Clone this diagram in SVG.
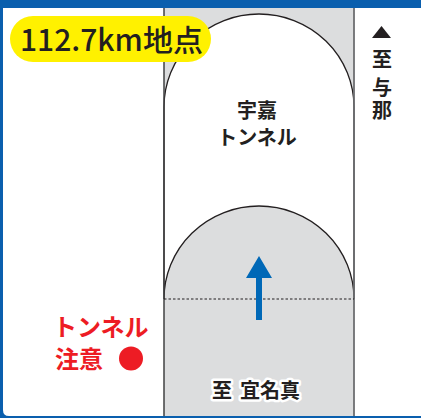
<svg xmlns="http://www.w3.org/2000/svg" width="421" height="418" viewBox="0 0 421 418">
<style>
text{font-family:"Noto Sans CJK JP","Noto Sans",sans-serif;fill:#231f20}
.b{font-weight:700}
.h{paint-order:stroke;stroke:#fff;stroke-width:5px;stroke-linejoin:round}
.r{fill:#ed1c24;font-weight:700}
</style>
<rect width="421" height="418" fill="#fff"/>
<g id="road">
<rect x="164" y="8" width="190" height="408" fill="#dcddde"/>
<path d="M164 107A95 93 0 0 1 354 107V299A95 93 0 0 0 164 299Z" fill="#fff" stroke="#231f20" stroke-width="1.3"/>
<line x1="164" y1="8" x2="164" y2="416" stroke="#414042" stroke-width="1.5"/>
<line x1="354" y1="8" x2="354" y2="416" stroke="#6d6e71" stroke-width="1.8"/>
</g>
<g id="connectors">
<line x1="164" y1="299" x2="354" y2="299" stroke="#231f20" stroke-width="1" stroke-dasharray="2.5 2"/>
<path d="M256 320V278H246L259 256L272 278H262V320Z" fill="#0068b7"/>
</g>
<g id="frame">
<path d="M0 0H421V8H3V410Q3 416 9 416H421V418H0Z" fill="#0a5fae"/>
</g>
<g id="badge">
<rect x="10" y="16" width="201" height="46" rx="23" fill="#fff100"/>
<text x="20" y="51" font-size="30" font-weight="500">112.7km地点</text>
</g>
<g id="tunnel-label">
<text x="257" y="118" font-size="20" class="b" text-anchor="middle">宇嘉</text>
<text x="257" y="145" font-size="20" class="b" text-anchor="middle">トンネル</text>
</g>
<g id="direction-north">
<path d="M372 38L381.500 26L391 38Z" fill="#231f20"/>
<text x="382" y="67" font-size="20" class="b" text-anchor="middle">至</text>
<text font-size="20" class="b" text-anchor="middle"><tspan x="382" y="95">与</tspan><tspan x="382" y="118">那</tspan></text>
</g>
<g id="warning">
<text x="53" y="336" font-size="24" class="r">トンネル</text>
<text x="55" y="368" font-size="24" class="r">注意</text>
<circle cx="131" cy="358.500" r="12" fill="#ed1c24"/>
</g>
<g id="direction-south">
<text x="212" y="398" font-size="20" class="b h">至</text>
<text x="240" y="398" font-size="20" class="b h">宜名真</text>
</g>
</svg>
